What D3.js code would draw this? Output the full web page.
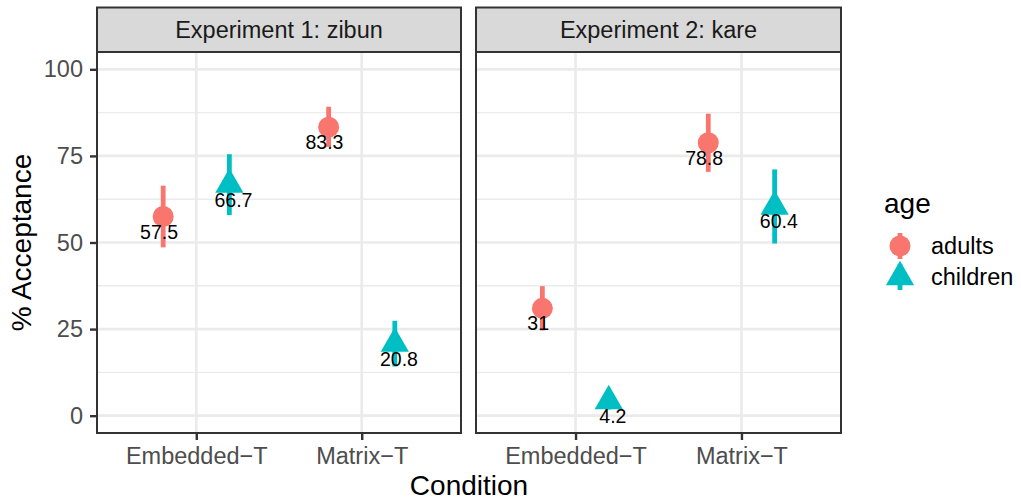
<!DOCTYPE html>
<html>
<head>
<meta charset="utf-8">
<script src="https://cdn.jsdelivr.net/npm/d3@7"></script>
<style>
  body { margin: 0; background: #fff; }
  svg { font-family: "Liberation Sans", Arial, Helvetica, sans-serif; }
</style>
</head>
<body>
<svg width="1021" height="500"></svg>
<script>
// data, long format: one entry per point
const experiments = ['Experiment 1: zibun', 'Experiment 2: kare'];
const conditions = ['Embedded\u2212T', 'Matrix\u2212T'];
const ages = ['adults', 'children'];

const panel = [0, 0, 0, 0, 1, 1, 1, 1];
const condition = ['Embedded\u2212T', 'Embedded\u2212T', 'Matrix\u2212T', 'Matrix\u2212T',
                   'Embedded\u2212T', 'Embedded\u2212T', 'Matrix\u2212T', 'Matrix\u2212T'];
const age = ['adults', 'children', 'adults', 'children', 'adults', 'children', 'adults', 'children'];
const acceptance = [57.5, 66.7, 83.3, 20.8, 31, 4.2, 78.8, 60.4];
const lower = [48.6, 57.9, 77.6, 14.2, 24.6, 1.8, 70.4, 49.7];
const upper = [66.4, 75.5, 89.2, 27.4, 37.4, 6.6, 87.2, 71.1];

const yTicks = [0, 25, 50, 75, 100];
const yMinor = [12.5, 37.5, 62.5, 87.5];

const rows = acceptance.map((v, i) => ({
  panel: panel[i], condition: condition[i], age: age[i],
  value: v, lo: lower[i], hi: upper[i]
}));

const svg = d3.select('svg');
const grid = '#EBEBEB';
const dark = '#333333';
const color = d3.scaleOrdinal().domain(ages).range(['#F8766D', '#00BFC4']);

const panelTop = 52, panelBottom = 433, stripTop = 7.5;
const panels = [{x0: 97, x1: 461}, {x0: 476, x1: 841}];

const y = d3.scaleLinear().domain([-5, 105]).range([panelBottom, panelTop]);

const circleR = 10.5, triR = 16.3;
function triangle(r) {
  const h = r * Math.sqrt(3) / 2;
  return `M0,${-r}L${h},${r / 2}L${-h},${r / 2}Z`;
}
function mark(g, a) {
  if (a === 'adults') {
    g.append('circle').attr('r', circleR).attr('fill', color(a));
  } else {
    g.append('path').attr('d', triangle(triR)).attr('fill', color(a));
  }
}

panels.forEach((p, k) => {
  const x = d3.scalePoint().domain(conditions).range([p.x0, p.x1]).padding(0.6);
  const step = x.step();
  const g = svg.append('g');

  // grid
  g.selectAll('.minor').data(yMinor).join('line')
    .attr('x1', p.x0).attr('x2', p.x1)
    .attr('y1', d => y(d)).attr('y2', d => y(d))
    .style('stroke', grid).style('stroke-width', 1.4);
  g.selectAll('.major').data(yTicks).join('line')
    .attr('x1', p.x0).attr('x2', p.x1)
    .attr('y1', d => y(d)).attr('y2', d => y(d))
    .style('stroke', grid).style('stroke-width', 2.7);
  g.selectAll('.vmajor').data(conditions).join('line')
    .attr('x1', d => x(d)).attr('x2', d => x(d))
    .attr('y1', panelTop).attr('y2', panelBottom)
    .style('stroke', grid).style('stroke-width', 2.7);

  // strip
  g.append('rect')
    .attr('x', p.x0).attr('y', stripTop)
    .attr('width', p.x1 - p.x0).attr('height', panelTop - stripTop)
    .style('fill', '#D9D9D9').style('stroke', dark).style('stroke-width', 2);
  g.append('text')
    .attr('x', (p.x0 + p.x1) / 2).attr('y', (stripTop + panelTop) / 2)
    .attr('dy', '0.35em').attr('text-anchor', 'middle')
    .style('font-size', '23.5px').style('fill', '#1A1A1A')
    .text(experiments[k]);

  // points
  const data = rows.filter(r => r.panel === k);
  const dodge = (d, w) => x(d.condition) + (d.age === 'adults' ? -1 : 1) * w / 2 * step;

  g.selectAll('.bar').data(data).join('line')
    .attr('x1', d => dodge(d, 0.4)).attr('x2', d => dodge(d, 0.4))
    .attr('y1', d => y(d.lo)).attr('y2', d => y(d.hi))
    .style('stroke', d => color(d.age)).style('stroke-width', 4.8);
  data.forEach(d => {
    const m = g.append('g').attr('transform', `translate(${dodge(d, 0.4)},${y(d.value)})`);
    mark(m, d.age);
  });
  g.selectAll('.lab').data(data).join('text')
    .attr('x', d => dodge(d, 0.45)).attr('y', d => y(d.value) + 22)
    .attr('text-anchor', 'middle')
    .style('font-size', '19.5px').style('fill', '#000')
    .text(d => d.value);

  // border
  g.append('rect')
    .attr('x', p.x0).attr('y', panelTop)
    .attr('width', p.x1 - p.x0).attr('height', panelBottom - panelTop)
    .style('fill', 'none').style('stroke', dark).style('stroke-width', 2);

  // x axis
  const ax = svg.append('g').attr('transform', `translate(0,${panelBottom})`)
    .call(d3.axisBottom(x).tickSize(7).tickPadding(7));
  ax.select('.domain').remove();
  ax.selectAll('line').style('stroke', dark).style('stroke-width', 2.4);
  ax.selectAll('text').style('font-size', '23.5px').style('fill', '#4D4D4D')
    .style('font-family', '"Liberation Sans", Arial, sans-serif');

  if (k === 0) {
    const ay = svg.append('g').attr('transform', `translate(${p.x0},0)`)
      .call(d3.axisLeft(y).tickValues(yTicks).tickSize(7).tickPadding(7));
    ay.select('.domain').remove();
    ay.selectAll('line').style('stroke', dark).style('stroke-width', 2.4);
    ay.selectAll('text').style('font-size', '23.5px').style('fill', '#4D4D4D')
      .style('font-family', '"Liberation Sans", Arial, sans-serif');
  }
});

// axis titles
svg.append('text')
  .attr('x', (panels[0].x0 + panels[1].x1) / 2).attr('y', 495)
  .attr('text-anchor', 'middle').style('font-size', '28px')
  .text('Condition');
svg.append('text')
  .attr('transform', `translate(31,${(panelTop + panelBottom) / 2}) rotate(-90)`)
  .attr('text-anchor', 'middle').style('font-size', '28px')
  .text('% Acceptance');

// legend
const legend = svg.append('g');
legend.append('text').attr('x', 884).attr('y', 213)
  .style('font-size', '28px').text('age');
const keyY = [246, 277];
ages.forEach((a, i) => {
  const k = legend.append('g').attr('transform', `translate(900,${keyY[i]})`);
  k.append('line').attr('y1', -13).attr('y2', 13)
    .style('stroke', color(a)).style('stroke-width', 4.8);
  mark(k, a);
  legend.append('text').attr('x', 931).attr('y', keyY[i]).attr('dy', '0.36em')
    .style('font-size', '23.5px').text(a);
});
</script>
</body>
</html>
